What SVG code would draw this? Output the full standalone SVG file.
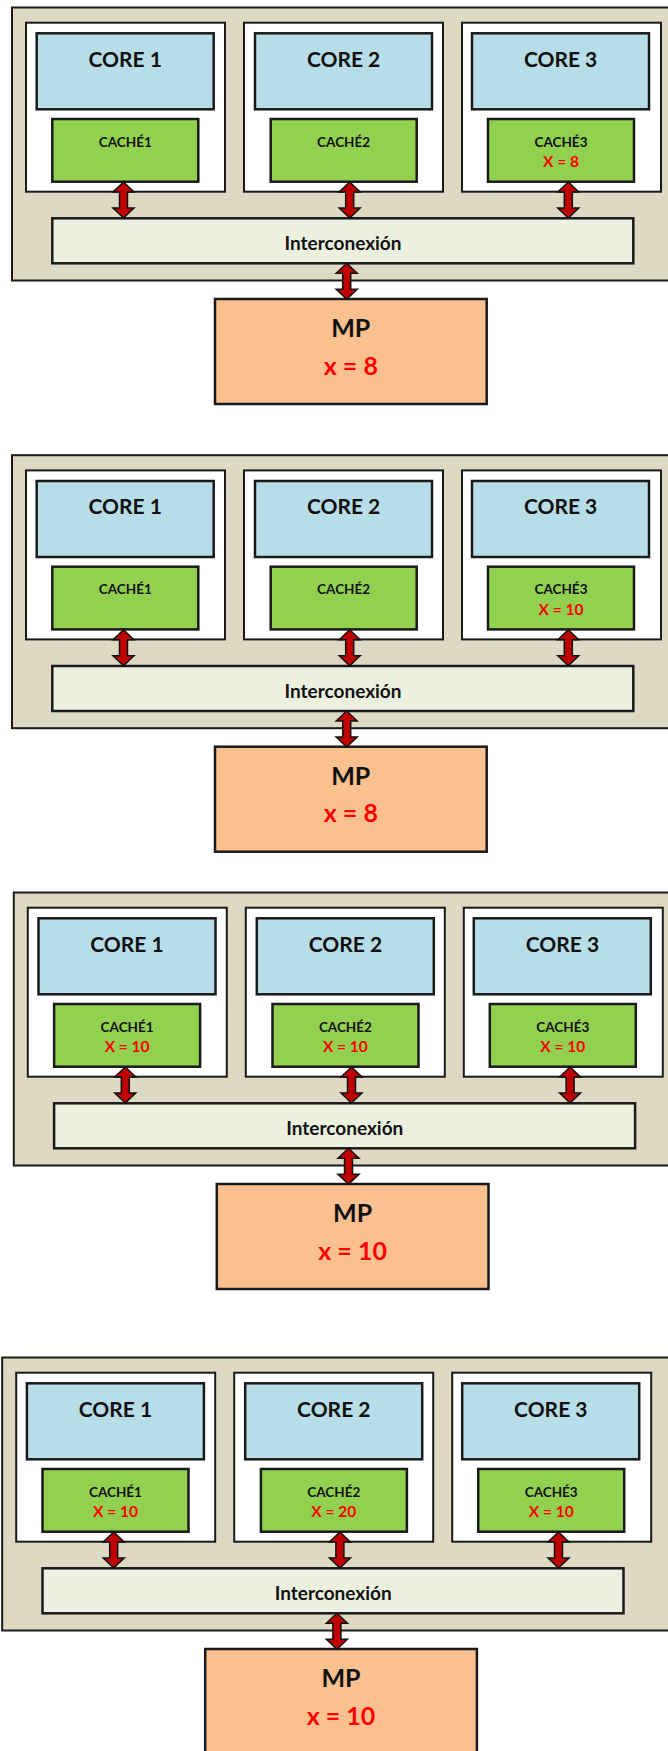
<svg xmlns="http://www.w3.org/2000/svg" xmlns:xlink="http://www.w3.org/1999/xlink" width="668" height="1751" viewBox="0 0 668 1751">
  <style>
    .chip { fill: #DDD9C3; stroke: #1a1a1a; stroke-width: 2; }
    .slot { fill: #FFFFFF; stroke: #1a1a1a; stroke-width: 2; }
    .core { fill: #B7DEE8; stroke: #1a1a1a; stroke-width: 2.5; }
    .cache { fill: #92D050; stroke: #1a1a1a; stroke-width: 2.5; }
    .bus { fill: #EBF1DE; stroke: #1a1a1a; stroke-width: 2.5; }
    .mem { fill: #FAC090; stroke: #1a1a1a; stroke-width: 2.5; }
    .arrow { fill: #C00000; stroke: #111111; stroke-width: 1.5; stroke-linejoin: miter; }
    text { font-family: Lato, "Open Sans", "Liberation Sans", sans-serif; font-weight: bold; text-anchor: middle; fill: #111111; }
    .t-core { font-size: 21px; }
    .t-cache { font-size: 13.5px; }
    .t-val { font-size: 15.5px; fill: #FF0000; }
    .t-bus { font-size: 19px; }
    .t-mp { font-size: 25px; }
    .t-mpv { font-size: 25px; fill: #FF0000; }
  </style>
  <defs>
    <!-- double-headed block arrow, 36 px tall, centred on x = 0 -->
    <path id="dbl" d="M0,0 L10.5,10 L4,10 L4,26 L10.5,26 L0,36 L-10.5,26 L-4,26 L-4,10 L-10.5,10 Z"/>
  </defs>

  <!-- ===== Step 1 ===== -->
  <g id="step1">
    <g id="s1-chip"><rect class="chip" x="12" y="7.5" width="680" height="273"/></g>
    <g id="s1-core1">
      <rect class="slot" x="26" y="22.7" width="199" height="169"/>
      <rect class="core" x="36.7" y="33.3" width="177" height="76"/>
      <text class="t-core" x="125.2" y="66.7">CORE 1</text>
    </g>
    <g id="s1-cache1">
      <rect class="cache" x="52.3" y="119" width="146" height="62.7"/>
      <text class="t-cache" x="125.3" y="146.7">CACHÉ1</text>
    </g>
    <g id="s1-core2">
      <rect class="slot" x="244" y="22.7" width="199" height="169"/>
      <rect class="core" x="255" y="33.3" width="177" height="76"/>
      <text class="t-core" x="343.6" y="66.7">CORE 2</text>
    </g>
    <g id="s1-cache2">
      <rect class="cache" x="270.7" y="119" width="146" height="62.7"/>
      <text class="t-cache" x="343.6" y="146.7">CACHÉ2</text>
    </g>
    <g id="s1-core3">
      <rect class="slot" x="462" y="22.7" width="199" height="169"/>
      <rect class="core" x="472" y="33.3" width="177" height="76"/>
      <text class="t-core" x="560.6" y="66.7">CORE 3</text>
    </g>
    <g id="s1-cache3">
      <rect class="cache" x="488" y="119" width="146" height="62.7"/>
      <text class="t-cache" x="561" y="146.7">CACHÉ3</text>
      <text class="t-val" x="561" y="167">X = 8</text>
    </g>
    <g id="s1-bus">
      <rect class="bus" x="52.3" y="218.3" width="581" height="45"/>
      <text class="t-bus" x="343" y="250">Interconexión</text>
    </g>
    <g id="s1-mp">
      <rect class="mem" x="215" y="299" width="271.7" height="105"/>
      <text class="t-mp" x="350.8" y="337">MP</text>
      <text class="t-mpv" x="350.8" y="374.5">x = 8</text>
    </g>
    <g id="s1-connectors" class="arrow">
      <use xlink:href="#dbl" x="123.5" y="182"/>
      <use xlink:href="#dbl" x="349.7" y="182"/>
      <use xlink:href="#dbl" x="568.3" y="182"/>
      <use xlink:href="#dbl" x="346.7" y="263.3"/>
    </g>
  </g>

  <!-- ===== Step 2 ===== -->
  <g id="step2" transform="translate(0,447.7)">
    <g id="s2-chip"><rect class="chip" x="12" y="7.5" width="680" height="273"/></g>
    <g id="s2-core1">
      <rect class="slot" x="26" y="22.7" width="199" height="169"/>
      <rect class="core" x="36.7" y="33.3" width="177" height="76"/>
      <text class="t-core" x="125.2" y="66.7">CORE 1</text>
    </g>
    <g id="s2-cache1">
      <rect class="cache" x="52.3" y="119" width="146" height="62.7"/>
      <text class="t-cache" x="125.3" y="146.7">CACHÉ1</text>
    </g>
    <g id="s2-core2">
      <rect class="slot" x="244" y="22.7" width="199" height="169"/>
      <rect class="core" x="255" y="33.3" width="177" height="76"/>
      <text class="t-core" x="343.6" y="66.7">CORE 2</text>
    </g>
    <g id="s2-cache2">
      <rect class="cache" x="270.7" y="119" width="146" height="62.7"/>
      <text class="t-cache" x="343.6" y="146.7">CACHÉ2</text>
    </g>
    <g id="s2-core3">
      <rect class="slot" x="462" y="22.7" width="199" height="169"/>
      <rect class="core" x="472" y="33.3" width="177" height="76"/>
      <text class="t-core" x="560.6" y="66.7">CORE 3</text>
    </g>
    <g id="s2-cache3">
      <rect class="cache" x="488" y="119" width="146" height="62.7"/>
      <text class="t-cache" x="561" y="146.7">CACHÉ3</text>
      <text class="t-val" x="561" y="167">X = 10</text>
    </g>
    <g id="s2-bus">
      <rect class="bus" x="52.3" y="218.3" width="581" height="45"/>
      <text class="t-bus" x="343" y="250">Interconexión</text>
    </g>
    <g id="s2-mp">
      <rect class="mem" x="215" y="299" width="271.7" height="105"/>
      <text class="t-mp" x="350.8" y="337">MP</text>
      <text class="t-mpv" x="350.8" y="374.5">x = 8</text>
    </g>
    <g id="s2-connectors" class="arrow">
      <use xlink:href="#dbl" x="123.5" y="182"/>
      <use xlink:href="#dbl" x="349.7" y="182"/>
      <use xlink:href="#dbl" x="568.3" y="182"/>
      <use xlink:href="#dbl" x="346.7" y="263.3"/>
    </g>
  </g>

  <!-- ===== Step 3 ===== -->
  <g id="step3" transform="translate(1.8,885)">
    <g id="s3-chip"><rect class="chip" x="12" y="7.5" width="680" height="273"/></g>
    <g id="s3-core1">
      <rect class="slot" x="26" y="22.7" width="199" height="169"/>
      <rect class="core" x="36.7" y="33.3" width="177" height="76"/>
      <text class="t-core" x="125.2" y="66.7">CORE 1</text>
    </g>
    <g id="s3-cache1">
      <rect class="cache" x="52.3" y="119" width="146" height="62.7"/>
      <text class="t-cache" x="125.3" y="146.7">CACHÉ1</text>
      <text class="t-val" x="125.3" y="167">X = 10</text>
    </g>
    <g id="s3-core2">
      <rect class="slot" x="244" y="22.7" width="199" height="169"/>
      <rect class="core" x="255" y="33.3" width="177" height="76"/>
      <text class="t-core" x="343.6" y="66.7">CORE 2</text>
    </g>
    <g id="s3-cache2">
      <rect class="cache" x="270.7" y="119" width="146" height="62.7"/>
      <text class="t-cache" x="343.6" y="146.7">CACHÉ2</text>
      <text class="t-val" x="343.6" y="167">X = 10</text>
    </g>
    <g id="s3-core3">
      <rect class="slot" x="462" y="22.7" width="199" height="169"/>
      <rect class="core" x="472" y="33.3" width="177" height="76"/>
      <text class="t-core" x="560.6" y="66.7">CORE 3</text>
    </g>
    <g id="s3-cache3">
      <rect class="cache" x="488" y="119" width="146" height="62.7"/>
      <text class="t-cache" x="561" y="146.7">CACHÉ3</text>
      <text class="t-val" x="561" y="167">X = 10</text>
    </g>
    <g id="s3-bus">
      <rect class="bus" x="52.3" y="218.3" width="581" height="45"/>
      <text class="t-bus" x="343" y="250">Interconexión</text>
    </g>
    <g id="s3-mp">
      <rect class="mem" x="215" y="299" width="271.7" height="105"/>
      <text class="t-mp" x="350.8" y="337">MP</text>
      <text class="t-mpv" x="350.8" y="374.5">x = 10</text>
    </g>
    <g id="s3-connectors" class="arrow">
      <use xlink:href="#dbl" x="123.5" y="182"/>
      <use xlink:href="#dbl" x="349.7" y="182"/>
      <use xlink:href="#dbl" x="568.3" y="182"/>
      <use xlink:href="#dbl" x="346.7" y="263.3"/>
    </g>
  </g>

  <!-- ===== Step 4 ===== -->
  <g id="step4" transform="translate(-9.8,1350)">
    <g id="s4-chip"><rect class="chip" x="12" y="7.5" width="680" height="273"/></g>
    <g id="s4-core1">
      <rect class="slot" x="26" y="22.7" width="199" height="169"/>
      <rect class="core" x="36.7" y="33.3" width="177" height="76"/>
      <text class="t-core" x="125.2" y="66.7">CORE 1</text>
    </g>
    <g id="s4-cache1">
      <rect class="cache" x="52.3" y="119" width="146" height="62.7"/>
      <text class="t-cache" x="125.3" y="146.7">CACHÉ1</text>
      <text class="t-val" x="125.3" y="167">X = 10</text>
    </g>
    <g id="s4-core2">
      <rect class="slot" x="244" y="22.7" width="199" height="169"/>
      <rect class="core" x="255" y="33.3" width="177" height="76"/>
      <text class="t-core" x="343.6" y="66.7">CORE 2</text>
    </g>
    <g id="s4-cache2">
      <rect class="cache" x="270.7" y="119" width="146" height="62.7"/>
      <text class="t-cache" x="343.6" y="146.7">CACHÉ2</text>
      <text class="t-val" x="343.6" y="167">X = 20</text>
    </g>
    <g id="s4-core3">
      <rect class="slot" x="462" y="22.7" width="199" height="169"/>
      <rect class="core" x="472" y="33.3" width="177" height="76"/>
      <text class="t-core" x="560.6" y="66.7">CORE 3</text>
    </g>
    <g id="s4-cache3">
      <rect class="cache" x="488" y="119" width="146" height="62.7"/>
      <text class="t-cache" x="561" y="146.7">CACHÉ3</text>
      <text class="t-val" x="561" y="167">X = 10</text>
    </g>
    <g id="s4-bus">
      <rect class="bus" x="52.3" y="218.3" width="581" height="45"/>
      <text class="t-bus" x="343" y="250">Interconexión</text>
    </g>
    <g id="s4-mp">
      <rect class="mem" x="215" y="299" width="271.7" height="105"/>
      <text class="t-mp" x="350.8" y="337">MP</text>
      <text class="t-mpv" x="350.8" y="374.5">x = 10</text>
    </g>
    <g id="s4-connectors" class="arrow">
      <use xlink:href="#dbl" x="123.5" y="182"/>
      <use xlink:href="#dbl" x="349.7" y="182"/>
      <use xlink:href="#dbl" x="568.3" y="182"/>
      <use xlink:href="#dbl" x="346.7" y="263.3"/>
    </g>
  </g>
</svg>
